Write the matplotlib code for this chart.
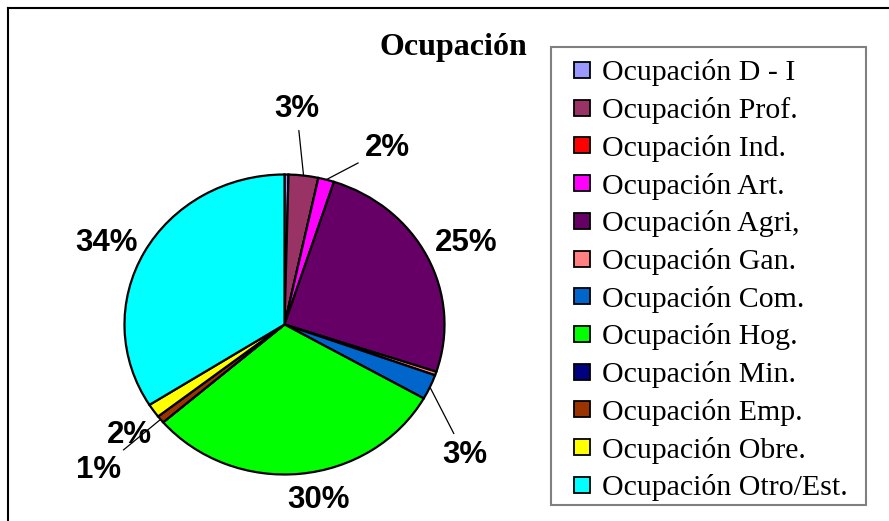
import matplotlib
matplotlib.use("Agg")
import matplotlib.pyplot as plt
from matplotlib.lines import Line2D
from matplotlib.patches import Rectangle
import numpy as np

# datos (porcentaje)
categorias = ["Ocupación D - I", "Ocupación Prof.", "Ocupación Ind.", "Ocupación Art.",
              "Ocupación Agri,", "Ocupación Gan.", "Ocupación Com.", "Ocupación Hog.",
              "Ocupación Min.", "Ocupación Emp.", "Ocupación Obre.", "Ocupación Otro/Est."]
valores = [0.4, 3.0, 0.0, 1.6, 25.1, 0.4, 2.7, 30.5, 0.0, 0.8, 1.5, 34.0]
etiquetas = ["", "3%", "", "2%", "25%", "", "3%", "30%", "", "1%", "2%", "34%"]
colores = ["#9999FF", "#993366", "#FF0000", "#FF00FF", "#660066", "#FF8080",
           "#0066CC", "#00FF00", "#000080", "#993300", "#FFFF00", "#00FFFF"]

# desplazamiento de cada etiqueta (pixeles) desde el borde de su porción, y si lleva línea guía
desplaz = [(0, 0), (-7, 67), (0, 0), (61, 32), (39, 14), (0, 0),
           (35, -68), (18, -26), (0, 0), (-62, -51), (-24, -24), (-38, 9)]
guia = [False, True, False, True, False, False, True, False, False, True, False, False]

W, H = 889, 521
cx, cy, rx, ry = 284.5, 324.5, 160.0, 150.0

fig = plt.figure(figsize=(W / 100, H / 100), dpi=100, facecolor="white")
ax = fig.add_axes([0, 0, 1, 1])

wedges, _ = ax.pie(valores, colors=colores, startangle=90, counterclock=False,
                   wedgeprops=dict(edgecolor="black", linewidth=1.6))
ax.set_aspect("auto")
ax.set_xlim(-cx / rx, (W - cx) / rx)
ax.set_ylim((cy - H) / ry, cy / ry)
ax.axis("off")

for w, txt, off, g in zip(wedges, etiquetas, desplaz, guia):
    if not txt:
        continue
    ang = np.deg2rad((w.theta1 + w.theta2) / 2)
    px, py = np.cos(ang), np.sin(ang)
    ax.annotate(txt, xy=(px, py), xytext=off, textcoords="offset pixels",
                ha="center", va="center", fontsize=22.5, fontweight="bold",
                family="Liberation Sans",
                arrowprops=dict(arrowstyle="-", color="black", lw=0.9,
                                shrinkA=3, shrinkB=0) if g else None)

fig.text(453 / W, 1 - 48 / H, "Ocupación", ha="center", va="center",
         fontsize=23, fontweight="bold", family="Liberation Serif")

# leyenda dibujada a mano (cuadro gris, cuadritos de color, texto serif)
def fx(p):
    return p / W


def fy(p):
    return 1 - p / H


fig.add_artist(Rectangle((fx(551), fy(505)), fx(866) - fx(551), fy(47) - fy(505),
                         transform=fig.transFigure, facecolor="white",
                         edgecolor="#808080", lw=1.5))
paso = 37.7
for i, (nom, col) in enumerate(zip(categorias, colores)):
    yc = 70 + i * paso
    fig.add_artist(Rectangle((fx(574), fy(yc + 8)), fx(16), 16 / H,
                             transform=fig.transFigure, facecolor=col,
                             edgecolor="black", lw=1.3))
    fig.text(fx(602), fy(yc), nom, ha="left", va="center_baseline",
             fontsize=21.5, family="Liberation Serif")

# marco exterior (solo izquierda y arriba visibles)
fig.add_artist(Line2D([fx(7.5), fx(7.5)], [0, fy(7.5)], color="black", lw=1.5,
                      transform=fig.transFigure))
fig.add_artist(Line2D([fx(7.5), 1], [fy(7.5), fy(7.5)], color="black", lw=1.5,
                      transform=fig.transFigure))

fig.savefig("out.png", dpi=100, facecolor="white")
